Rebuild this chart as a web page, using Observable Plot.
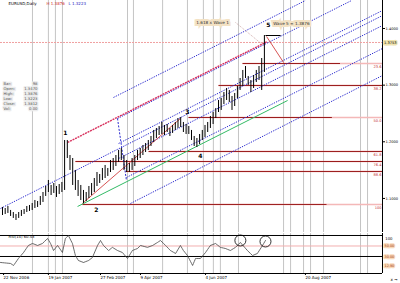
<!DOCTYPE html>
<html><head><meta charset="utf-8">
<script src="https://cdn.jsdelivr.net/npm/d3@7"></script>
<script src="https://cdn.jsdelivr.net/npm/@observablehq/plot@0.6"></script>
<style>
body{margin:0;background:#fff;}
#chart{position:relative;width:400px;height:283px;overflow:hidden;}
#chart svg{position:absolute;left:0;}
</style></head><body><div id="chart"></div>
<script>
// ---- price bars (bar index, high, low) ----
const high = [1.0841,1.0823,1.0858,1.0788,1.0752,1.0717,1.0752,1.0788,1.0805,1.0858,1.0876,1.0911,1.0964,1.0946,1.1035,1.1105,1.1211,1.1317,1.1229,1.1264,
1.1211,1.1246,1.1282,1.2023,1.2023,1.1758,1.1705,1.1494,1.1317,1.1229,1.1141,1.1105,1.1211,1.1264,1.1352,1.1458,1.1423,1.1529,1.1582,1.1529,
1.1670,1.1705,1.1758,1.1847,1.1882,1.1758,1.1670,1.1617,1.1705,1.1758,1.1847,1.1882,1.1935,1.1970,1.2023,1.2094,1.2200,1.2235,1.2270,1.2341,
1.2288,1.2305,1.2235,1.2288,1.2341,1.2411,1.2429,1.2341,1.2305,1.2270,1.2200,1.2094,1.2058,1.2129,1.2200,1.2288,1.2341,1.2447,1.2517,1.2588,
1.2729,1.2764,1.2870,1.2941,1.2906,1.2800,1.2853,1.2976,1.3117,1.3259,1.3329,1.3153,1.3082,1.3170,1.3259,1.3329,1.3470,1.3876];
const low = [1.0699,1.0717,1.0735,1.0682,1.0647,1.0611,1.0647,1.0682,1.0717,1.0752,1.0770,1.0788,1.0823,1.0841,1.0876,1.0929,1.1035,1.1105,1.1052,1.1088,
1.1017,1.1070,1.1105,1.1141,1.1705,1.1494,1.1229,1.1141,1.1035,1.0964,1.0911,1.0946,1.0999,1.1052,1.1105,1.1211,1.1264,1.1317,1.1352,1.1388,
1.1458,1.1494,1.1564,1.1635,1.1670,1.1494,1.1458,1.1458,1.1494,1.1564,1.1670,1.1705,1.1758,1.1811,1.1847,1.1917,1.1988,1.2058,1.2111,1.2129,
1.2111,1.2164,1.2094,1.2147,1.2200,1.2235,1.2252,1.2164,1.2129,1.2129,1.2023,1.1917,1.1899,1.1952,1.2023,1.2076,1.2164,1.2235,1.2305,1.2411,
1.2517,1.2553,1.2658,1.2729,1.2694,1.2553,1.2623,1.2764,1.2906,1.2976,1.3117,1.2994,1.2870,1.2941,1.3047,1.3082,1.2906,1.3223];

// ---- price axis ----
const yTicks = [1.4000, 1.3000, 1.2000, 1.1000];
const lastPrice = 1.3753;

// ---- vertical (time-zone) lines, bar index ----
const gridX = [11.1,17.0,19.6,22.2,46.3,48.5,59.3,68.5,74.4,78.1,80.7,87.4,104.1,106.7,111.5,114.1,118.9,132.6,135.2];

// ---- horizontal levels ----
const levelStart = [88.9, 80.0, 68.9, 54.1, 27.0, 45.6, 29.6];
const levelPrice = [1.3382, 1.2994, 1.2429, 1.1829, 1.1652, 1.1476, 1.0894];
const levelDarkEnd = [125, 140.7, 122, 140.7, 140.7, 140.7, 120];
const levelLabel = ["23.6","38.2","50.0","61.8","76.4","88.6","100"];

// ---- blue channel lines ----
const blueX1 = [41.1, -0.74, 43.0, 43.0, 42.6, 45.9, 47.4];
const blueY1 = [1.2782, 1.0823, 1.1970, 1.1705, 1.2411, 1.1370, 1.0911];
const blueX2 = [112.2, 140.74, 140.74, 140.74, 129.3, 140.74, 140.74];
const blueY2 = [1.4494, 1.4229, 1.4318, 1.4053, 1.4494, 1.3647, 1.3170];

// ---- other trend lines ----
const redChannel = {x1: 24.1, y1: 1.1988, x2: 98.1, y2: 1.3770};
const greenLine = {x1: 27.8, y1: 1.0858, x2: 105.6, y2: 1.2729};
const handle = {x1: 42.6, y1: 1.2411, x2: 45.9, y2: 1.1317};
const redThinX1 = [29.6, 97.8];
const redThinY1 = [1.0911, 1.3859];
const redThinX2 = [65.9, 104.1];
const redThinY2 = [1.2411, 1.3400];
const pointer = {x1: 86.3, y1: 1.4106, x2: 96.7, y2: 1.3700};
const topMark = {x1: 97.4, y1: 1.3876, x2: 103, y2: 1.3876};

// ---- wave labels ----
const waveText = ["1","2","3","4","5"];
const waveX = [23.3, 34.8, 68.5, 73.3, 98.5];
const waveY = [1.2147, 1.0788, 1.2517, 1.1741, 1.4053];
const boxText = ["1.618 x Wave 1", "Wave 5 = 1.3876"];
const boxX = [77.8, 107.0];
const boxY = [1.4106, 1.4088];

// ---- info / title ----
const titleText = ["EURUSD,Daily", "H 1.3876", "L 1.3223"];
const infoKeys = ["Bar:", "Open:", "High:", "Low:", "Close:", "Vol:"];
const infoVals = ["98", "1.3470", "1.3876", "1.3223", "1.3812", "0.00"];

// ---- oscillator ----
const oscI = [-0.74,3.0,4.1,5.9,7.8,9.6,11.1,13.0,14.8,16.7,17.8,18.9,20.4,22.2,23.3,24.4,25.9,27.0,28.1,30.0,31.9,33.3,35.2,36.3,37.4,39.3,40.7,42.6,44.4,46.3,48.1,50.0,51.1,53.7,55.6,57.4,58.5,60.4,62.2,64.1,65.9,67.0,68.5,70.4,71.5,73.3,75.2,77.0,78.9,80.7,82.6,84.4,86.3,88.1,90.7,92.6,94.4,96.3,97.4];
const oscV = [18.6,16.7,12.9,26.2,37.6,51.0,54.8,51.0,54.8,64.3,54.8,41.4,51.0,37.6,64.3,70.0,54.8,31.9,22.4,18.6,22.4,28.1,51.0,60.5,51.0,41.4,47.4,41.4,37.6,26.2,41.4,45.2,51.0,47.4,51.0,56.7,60.5,51.0,41.4,35.7,51.0,41.4,31.9,12.9,26.2,26.2,37.6,51.0,54.8,47.4,45.2,41.4,47.4,56.7,41.4,31.9,35.7,51.0,60.5];
const oscLevels = [70, 30];
const oscMid = 50;
const oscBoxV = [50, 30, 12.9];
const oscBoxText = ["50.00", "30.00", "12.90"];
const circleI = [88.1, 97.4];
const circleV = [60.5, 58.6];

// ---- dates ----
const dateI = [0.4, 17.0, 36.3, 51.1, 75.2, 112.2];
const dateText = ["22 Nov 2006", "19 Jan 2007", "27 Feb 2007", "9 Apr 2007", "4 Jun 2007", "20 Aug 2007"];

// ================= build =================
const bars = high.map((h, i) => ({i, high: h, low: low[i]}));
const levels = levelPrice.map((p, k) => ({x1: levelStart[k], x2: 140.74, xd: levelDarkEnd[k], p, label: levelLabel[k]}));
const blues = blueX1.map((x, k) => ({x1: x, y1: blueY1[k], x2: blueX2[k], y2: blueY2[k]}));
const redThin = redThinX1.map((x, k) => ({x1: x, y1: redThinY1[k], x2: redThinX2[k], y2: redThinY2[k]}));
const waves = waveText.map((t, k) => ({t, x: waveX[k], y: waveY[k]}));
const boxes = boxText.map((t, k) => ({t, x: boxX[k], y: boxY[k]}));
const osc = oscI.map((x, k) => ({x, v: oscV[k]}));
const circles = circleI.map((x, k) => ({x, v: circleV[k]}));
const oscBoxes = oscBoxV.map((v, k) => ({v, t: oscBoxText[k]}));

const FONT = "DejaVu Sans";
const xs = {domain: [-0.74, 140.74], range: [0, 382]};

const main = Plot.plot({
  width: 400, height: 232,
  marginTop: 0, marginBottom: 0, marginLeft: 0, marginRight: 18,
  style: {fontFamily: FONT, background: "#fff"},
  x: {...xs, axis: null},
  y: {domain: [1.0399, 1.4494], range: [232, 0], axis: null},
  marks: [
    Plot.ruleX(gridX, {stroke: "#c4c4c4", strokeWidth: 1}),
    Plot.ruleY([lastPrice], {stroke: "#f0a0a0", strokeDasharray: "2,1", strokeWidth: 1}),
    Plot.link(levels, {x1: "x1", x2: "x2", y1: "p", y2: "p", stroke: "#f4b8b8", strokeWidth: 1.6}),
    Plot.link(levels, {x1: "x1", x2: "xd", y1: "p", y2: "p", stroke: "#9b1c1c", strokeWidth: 1}),
    Plot.text(levels, {x: "x2", y: "p", text: "label", fill: "#c03030", fontSize: 3.6, textAnchor: "end", dx: -1, dy: 3}),
    Plot.link(blues, {x1: "x1", y1: "y1", x2: "x2", y2: "y2", stroke: "#2b2bd0", strokeWidth: 1, strokeDasharray: "1.3,1.2"}),
    Plot.link([redChannel], {x1: "x1", y1: "y1", x2: "x2", y2: "y2", stroke: "#d8305c", strokeWidth: 1.4, strokeDasharray: "2,0.8"}),
    Plot.link([greenLine], {x1: "x1", y1: "y1", x2: "x2", y2: "y2", stroke: "#33bb66", strokeWidth: 1}),
    Plot.link([handle], {x1: "x1", y1: "y1", x2: "x2", y2: "y2", stroke: "#2b2bd0", strokeWidth: 1, strokeDasharray: "2,1.5"}),
    Plot.link(redThin, {x1: "x1", y1: "y1", x2: "x2", y2: "y2", stroke: "#d04040", strokeWidth: 0.9}),
    Plot.link([pointer], {x1: "x1", y1: "y1", x2: "x2", y2: "y2", stroke: "#c09090", strokeWidth: 0.7, strokeDasharray: "1,1"}),
    Plot.ruleX(bars, {x: "i", y1: "low", y2: "high", stroke: "#000", strokeWidth: 1}),
    Plot.link([topMark], {x1: "x1", y1: "y1", x2: "x2", y2: "y2", stroke: "#000", strokeWidth: 1}),
    Plot.text(waves, {x: "x", y: "y", text: "t", fontSize: 6, fill: "#000", fontWeight: "bold"}),
    Plot.text(boxes, {x: "x", y: "y", text: "t", fontSize: 4.2, fill: "#333", stroke: "#f3e2c4", strokeWidth: 4, strokeLinejoin: "miter"}),
    Plot.ruleX([140.74], {stroke: "#000", strokeWidth: 1}),
    Plot.axisY({anchor: "right", ticks: yTicks, tickFormat: d => d.toFixed(4), fontSize: 3.6, tickSize: 2, tickPadding: 1, color: "#000"}),
    Plot.text([lastPrice], {y: d => d, frameAnchor: "right", text: d => d.toFixed(4), dx: 1.5, textAnchor: "start", fontSize: 3.6, fill: "#000", stroke: "#efe4b0", strokeWidth: 3}),
    Plot.text([titleText[0]], {frameAnchor: "top-left", dx: 8, dy: 2, fontSize: 4, fill: "#000"}),
    Plot.text([titleText[1]], {frameAnchor: "top-left", dx: 46, dy: 2, fontSize: 4, fill: "#d02020"}),
    Plot.text([titleText[2]], {frameAnchor: "top-left", dx: 68, dy: 2, fontSize: 4, fill: "#2020c0"}),
    Plot.text([infoKeys.join("\n")], {frameAnchor: "top-left", dx: 3, dy: 81, fontSize: 3.8, lineHeight: 1.3, fill: "#555", stroke: "#ececec", strokeWidth: 2.5}),
    Plot.text([infoVals.join("\n")], {frameAnchor: "top-left", dx: 37, dy: 81, fontSize: 3.8, lineHeight: 1.3, textAnchor: "end", fill: "#555", stroke: "#ececec", strokeWidth: 2.5})
  ]
});
main.style.top = "0px";

const sub = Plot.plot({
  width: 400, height: 51,
  marginTop: 1, marginBottom: 10, marginLeft: 0, marginRight: 18,
  style: {fontFamily: FONT, background: "transparent"},
  x: {...xs},
  y: {domain: [-2.4, 73.8], range: [41, 1], axis: null},
  marks: [
    Plot.ruleX(gridX, {stroke: "#c4c4c4", strokeWidth: 1}),
    Plot.ruleY([oscMid], {stroke: "#f2b0b0", strokeWidth: 1}),
    Plot.ruleY(oscLevels, {stroke: "#000", strokeWidth: 1}),
    Plot.ruleY([-2.4], {stroke: "#000", strokeWidth: 1}),
    Plot.line(osc, {x: "x", y: "v", stroke: "#444", strokeWidth: 0.8, strokeDasharray: "1.4,0.8", curve: "linear"}),
    Plot.dot(circles, {x: "x", y: "v", r: 5.5, stroke: "#000", fill: "none", strokeWidth: 0.8}),
    Plot.ruleX([140.74], {stroke: "#000", strokeWidth: 1}),
    Plot.text(["RSI(14) 60.53"], {frameAnchor: "top-left", dx: 8, dy: 2, fontSize: 3.8, fill: "#000"}),
    Plot.text(["100"], {frameAnchor: "top-right", dx: 10, dy: 4, fontSize: 3.8, fill: "#000"}),
    Plot.text(oscBoxes, {y: "v", frameAnchor: "right", text: "t", dx: 2, textAnchor: "start", fontSize: 3.4, fill: "#a04010", stroke: "#f8d8b8", strokeWidth: 2.5}),
    Plot.axisX({ticks: dateI, tickFormat: (d, k) => dateText[k], fontSize: 4, tickSize: 2, tickPadding: 1, textAnchor: "start", color: "#000"})
  ]
});
sub.style.top = "232px";

const c = document.getElementById("chart");
c.appendChild(main);
c.appendChild(sub);
</script>
</body></html>
